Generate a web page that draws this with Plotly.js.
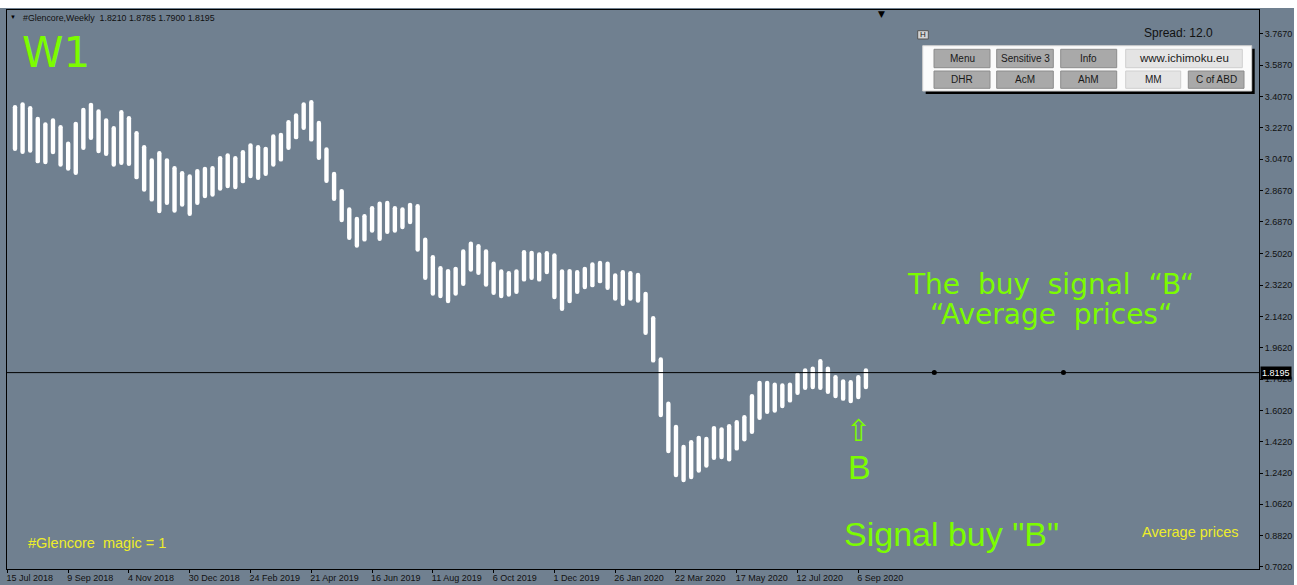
<!DOCTYPE html>
<html><head><meta charset="utf-8">
<script src="https://cdn.plot.ly/plotly-3.0.1.min.js"></script>
<style>
html,body{margin:0;padding:0;background:#ffffff;}
#chart{position:absolute;left:0;top:8px;width:1294px;height:577px;}
#chart .scatterlayer .js-line{stroke-linecap:round;}
</style></head>
<body><div id="chart"></div>
<script>
// ---- data ----
const tickLabels = ["15 Jul 2018","9 Sep 2018","4 Nov 2018","30 Dec 2018","24 Feb 2019","21 Apr 2019","16 Jun 2019","11 Aug 2019","6 Oct 2019","1 Dec 2019","26 Jan 2020","22 Mar 2020","17 May 2020","12 Jul 2020","6 Sep 2020"];
const priceTicks = [3.767,3.587,3.407,3.227,3.047,2.867,2.687,2.502,2.322,2.142,1.962,1.782,1.602,1.422,1.242,1.062,0.882,0.702];
const highs = [3.359,3.374,3.353,3.291,3.259,3.282,3.244,3.148,3.263,3.343,3.372,3.334,3.282,3.238,3.330,3.295,3.209,3.129,3.052,3.094,
3.052,3.008,2.979,2.960,2.991,3.004,3.008,3.065,3.081,3.065,3.100,3.138,3.129,3.119,3.190,3.199,3.272,3.311,3.374,3.387,
3.268,3.115,2.975,2.876,2.770,2.716,2.732,2.778,2.803,2.808,2.778,2.770,2.797,2.789,2.596,2.496,2.433,2.416,2.429,2.529,
2.573,2.559,2.529,2.458,2.414,2.404,2.414,2.525,2.521,2.512,2.519,2.506,2.414,2.416,2.410,2.429,2.454,2.463,2.458,2.391,
2.410,2.404,2.394,2.285,2.145,1.908,1.653,1.519,1.404,1.432,1.457,1.451,1.513,1.505,1.524,1.547,1.576,1.697,1.773,1.773,
1.762,1.758,1.762,1.822,1.845,1.854,1.898,1.854,1.806,1.781,1.777,1.806,1.845];
const lows = [3.094,3.077,3.084,3.023,3.018,3.075,3.004,2.981,2.956,3.100,3.157,3.081,3.065,3.004,3.014,3.008,2.931,2.860,2.803,2.736,
2.784,2.739,2.774,2.720,2.784,2.822,2.831,2.866,2.880,2.874,2.908,2.937,2.927,2.950,3.004,3.033,3.100,3.161,3.215,3.148,
3.042,2.910,2.807,2.684,2.582,2.538,2.573,2.624,2.577,2.617,2.624,2.644,2.673,2.515,2.352,2.262,2.247,2.218,2.262,2.318,
2.400,2.381,2.314,2.266,2.247,2.256,2.272,2.343,2.352,2.343,2.385,2.241,2.174,2.218,2.272,2.299,2.310,2.333,2.295,2.233,
2.203,2.233,2.222,2.036,1.877,1.563,1.356,1.218,1.189,1.206,1.244,1.273,1.317,1.321,1.308,1.371,1.423,1.467,1.547,1.582,
1.589,1.615,1.647,1.691,1.720,1.724,1.720,1.697,1.672,1.657,1.643,1.666,1.724];
const lastPrice = 1.8195;
const futureDotWeeks = [122, 139];
const shiftMarkerWeek = 115;
const headerText = "#Glencore,Weekly  1.8210 1.8785 1.7900 1.8195";
const buttonRow1 = ["Menu","Sensitive 3","Info","www.ichimoku.eu"];
const buttonRow2 = ["DHR","AcM","AhM","MM","C of ABD"];

// ---- geometry of the plot area (page pixels) ----
const DIVW = 1294;
const PL = 7, PR = 1259, PT = 10, PB = 569;
const YMIN = 0.690, YMAX = 3.905;
const px = x => (x - PL) / (PR - PL);
const py = y => (PB - y) / (PB - PT);

const FONT = "Liberation Sans, Arial, sans-serif";
const WIDE = "DejaVu Sans, Verdana, sans-serif";
const GREEN = "#7CFC00";
const YELLOW = "#eded2a";
const BAR_W = 4.4; // px
const capInset = (BAR_W / 2) * (YMAX - YMIN) / (PB - PT); // round caps drawn inside the high/low extent

// one path of vertical high-low segments
const segX = [], segY = [];
highs.forEach((h, i) => {
  segX.push(i + 1, i + 1, null);
  segY.push(lows[i] + capInset, h - capInset, null);
});

function ann(text, x, y, size, color, family, xa, ya, extra) {
  return Object.assign({xref:'paper', yref:'paper', x:px(x), y:py(y), text:text, showarrow:false,
    xanchor:xa||'center', yanchor:ya||'middle', font:{size:size, color:color, family:family||FONT}}, extra||{});
}
function rect(x0, y0, x1, y1, fill, line) {
  return {type:'rect', xref:'paper', yref:'paper', x0:px(x0), x1:px(x1), y0:py(y1), y1:py(y0),
    fillcolor:fill, line:{color:line||fill, width:line?1:0}, layer:'above'};
}

const traces = [
  {type:'scatter', mode:'lines', x:segX, y:segY, connectgaps:false,
   line:{color:'#ffffff', width:BAR_W}, hoverinfo:'skip'},
  {type:'scatter', mode:'markers', x:futureDotWeeks, y:futureDotWeeks.map(() => lastPrice),
   marker:{color:'#000000', size:5}, hoverinfo:'skip'}
];

const shapes = [
  {type:'line', xref:'paper', yref:'y', x0:0, x1:1, y0:lastPrice, y1:lastPrice, line:{color:'#000', width:1}},
  rect(925.7, 48.7, 1254.7, 94, '#000000'),
  rect(922.7, 45.7, 1251.7, 91, '#fbfbfb', '#d0d0d0'),
  rect(917.7, 30.7, 928.3, 39, '#d4d4d4', '#555555')
];
const annotations = [
  ann('▼', 13, 17, 6, '#000'),
  ann(headerText, 21, 17.5, 8.8, '#111', FONT, 'left'),
  ann('W1', 56, 53, 42, GREEN, WIDE),
  ann('The\u00a0\u00a0buy\u00a0\u00a0signal\u00a0\u00a0“B“', 1050, 284.5, 28, GREEN, WIDE),
  ann('“Average\u00a0\u00a0prices“', 1051, 314.5, 28, GREEN, WIDE),
  ann('⇧', 858, 430, 30, GREEN, WIDE),
  ann('B', 859, 467, 34, GREEN, FONT),
  ann('Signal buy "B"', 951, 534, 34, GREEN, FONT),
  ann('Average prices', 1190, 532, 14.5, YELLOW, FONT),
  ann('#Glencore\u00a0\u00a0magic = 1', 97, 543, 14.5, YELLOW, FONT),
  ann('Spread: 12.0', 1178, 33, 12, '#111', FONT),
  ann('H', 923, 35, 8, '#222', FONT),
  {xref:'paper', yref:'y', x:1, y:lastPrice, text:'1.8195', showarrow:false, xanchor:'left', yanchor:'middle',
   xshift:1, bgcolor:'#000', borderpad:1, font:{size:9, color:'#fff', family:FONT}},
  {xref:'x', yref:'paper', x:shiftMarkerWeek, y:1, text:'▼', showarrow:false, xanchor:'center', yanchor:'top',
   yshift:3, font:{size:9, color:'#000', family:WIDE}}
];
// button panel
const row1X = [[934,990],[996.7,1053.3],[1060.7,1116.7],[1125.7,1242.3]];
const row2X = [[934,990],[996.7,1053.3],[1060.7,1116.7],[1125.7,1180.7],[1188.3,1244]];
const lightButtons = {"www.ichimoku.eu":true, "MM":true};
function addRow(labels, xs, y0, y1) {
  labels.forEach((lab, i) => {
    const light = lightButtons[lab];
    shapes.push(rect(xs[i][0], y0, xs[i][1], y1, light ? '#e4e4e4' : '#a9a9a9', light ? '#cfcfcf' : '#8c8c8c'));
    annotations.push(ann(lab, (xs[i][0] + xs[i][1]) / 2, (y0 + y1) / 2, lab.indexOf('www') === 0 ? 11.5 : 10, '#1a1a1a', FONT));
  });
}
addRow(buttonRow1, row1X, 49.3, 67.7);
addRow(buttonRow2, row2X, 71, 88.3);

const layout = {
  width:DIVW, height:577,
  margin:{l:PL, r:DIVW - PR, t:PT - 8, b:585 - PB, pad:0},
  paper_bgcolor:'#708090', plot_bgcolor:'#708090',
  showlegend:false, hovermode:false,
  xaxis:{range:[-0.05, (PR - PL) / 7.6], tickvals:tickLabels.map((_, i) => i * 8), ticktext:tickLabels,
    ticks:'outside', ticklen:3, tickcolor:'#000', showgrid:false, zeroline:false,
    showline:true, linecolor:'#000', linewidth:1, mirror:true, ticklabelposition:'outside right',
    ticklabelshift:-2, tickangle:0, tickfont:{family:FONT, size:9, color:'#111'}, fixedrange:true},
  yaxis:{side:'right', range:[YMIN, YMAX], tickvals:priceTicks, ticktext:priceTicks.map(v => v.toFixed(4)),
    ticks:'outside', ticklen:3, tickcolor:'#000', showgrid:false, zeroline:false,
    showline:true, linecolor:'#000', linewidth:1, mirror:true,
    tickfont:{family:FONT, size:9, color:'#111'}, fixedrange:true},
  shapes:shapes, annotations:annotations
};
Plotly.newPlot('chart', traces, layout, {displayModeBar:false, staticPlot:true});
</script>
</body></html>
